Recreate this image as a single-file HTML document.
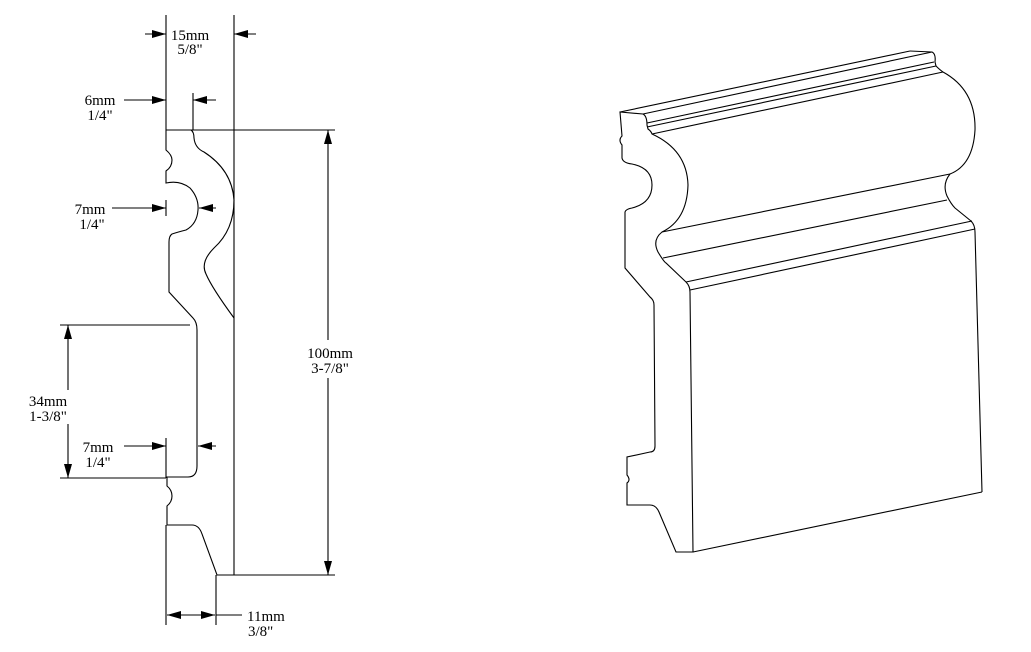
<!DOCTYPE html>
<html><head><style>
html,body{margin:0;padding:0;background:#fff;}
svg{display:block;}
text{font-family:"Liberation Serif",serif;font-size:15px;fill:#000;}
</style></head><body>
<svg width="1031" height="652" viewBox="0 0 1031 652" xmlns="http://www.w3.org/2000/svg">
<defs>
<marker id="a" viewBox="0 0 14 8" refX="14" refY="4" markerWidth="14" markerHeight="8" markerUnits="userSpaceOnUse" orient="auto"><path d="M0,0 L14,4 L0,8 z" fill="#000"/></marker>
</defs>
<g fill="none" stroke="#000" stroke-width="1.1">
<path d="M166,130 L191,130 Q194,132 194,138 Q195,148 204,152 Q232,170 234,200 Q234,230 214,248 Q200,262 206,274 Q212,288 234,318"/>
<path d="M166,130 L166,150 Q172,155 172,160 Q172,167 166,171 L166,183 Q180,180 190,188 Q199,198 198,210 Q197,224 186,230 Q178,232 172,234 Q169,236 169,242 L169,292 L193,318 Q197,322 197,330 L197,466 Q197,477 188,477 L167,477 L167,486 Q172,490 172,496 Q172,502 167,506 L167,525 L192,525 Q199,525 202,534 L217,575 L234,575"/>
<line x1="234" y1="15" x2="234" y2="575"/>
<line x1="166" y1="15" x2="166" y2="130"/>
<line x1="193" y1="93" x2="193" y2="130"/>
<line x1="166" y1="130" x2="335" y2="130"/>
<line x1="234" y1="575" x2="335" y2="575"/>
<line x1="145" y1="34" x2="166" y2="34" marker-end="url(#a)"/>
<line x1="256" y1="34" x2="234" y2="34" marker-end="url(#a)"/>
<line x1="124" y1="100" x2="166" y2="100" marker-end="url(#a)"/>
<line x1="216" y1="100" x2="193" y2="100" marker-end="url(#a)"/>
<line x1="112" y1="208" x2="166" y2="208" marker-end="url(#a)"/>
<line x1="216" y1="208" x2="199" y2="208" marker-end="url(#a)"/>
<line x1="166" y1="200" x2="166" y2="216"/>
<line x1="328" y1="340" x2="328" y2="130" marker-end="url(#a)"/>
<line x1="328" y1="378" x2="328" y2="575" marker-end="url(#a)"/>
<line x1="60" y1="325" x2="190" y2="325"/>
<line x1="60" y1="478" x2="166" y2="478"/>
<line x1="68" y1="390" x2="68" y2="325" marker-end="url(#a)"/>
<line x1="68" y1="424" x2="68" y2="478" marker-end="url(#a)"/>
<line x1="124" y1="446" x2="166" y2="446" marker-end="url(#a)"/>
<line x1="216" y1="446" x2="198" y2="446" marker-end="url(#a)"/>
<line x1="166" y1="438" x2="166" y2="478"/>
<line x1="166" y1="525" x2="166" y2="625"/>
<line x1="216" y1="575" x2="216" y2="625"/>
<line x1="191" y1="615" x2="167" y2="615" marker-end="url(#a)"/>
<line x1="191" y1="615" x2="215" y2="615" marker-end="url(#a)"/>
<line x1="216" y1="615" x2="242" y2="615"/>

<path d="M620,112 L643,114 Q647,116 647,125 L648,129 Q651,131 652,134 Q687,150 688,185 Q687,220 662,232 Q652,240 658,252 Q664,262 666,263 L686,282 Q690,286 690,292 L693,552 L676,552 L659,512 Q656,505 650,505 L627,505 L627,483 Q631,480 627,475 L627,457 L650,452 Q655,452 655,446 L654,305 Q654,300 650,297 L625,268 L625,212 Q626,209 632,208 Q652,203 652,185 Q652,168 632,164 Q623,163 622,158 L622,145 Q618,140 622,136 L620,112 Z"/>
<line x1="620" y1="112" x2="910" y2="51"/>
<path d="M910,51 L932,52 Q936,54 935,62 L936,66 Q940,70 943,72"/>
<line x1="643" y1="114" x2="932" y2="52"/>
<line x1="647" y1="123" x2="934" y2="62"/>
<line x1="647" y1="127" x2="936" y2="66"/>
<line x1="652" y1="134" x2="943" y2="72"/>
<path d="M943,72 Q976,90 975,130 Q973,165 950,174 Q942,184 947,196 Q951,204 955,208 L971,221 Q975,225 975,232 L982,492"/>
<line x1="662" y1="232" x2="950" y2="174"/>
<line x1="663" y1="258" x2="947" y2="200"/>
<line x1="686" y1="282" x2="972" y2="221"/>
<line x1="690" y1="290" x2="975" y2="229"/>
<line x1="693" y1="552" x2="982" y2="492"/>
</g>
<g>
<text x="190" y="40" text-anchor="middle">15mm</text>
<text x="190" y="54" text-anchor="middle">5/8"</text>
<text x="100" y="105" text-anchor="middle">6mm</text>
<text x="100" y="120" text-anchor="middle">1/4"</text>
<text x="90" y="214" text-anchor="middle">7mm</text>
<text x="92" y="229" text-anchor="middle">1/4"</text>
<text x="330" y="358" text-anchor="middle">100mm</text>
<text x="330" y="373" text-anchor="middle">3-7/8"</text>
<text x="48" y="406" text-anchor="middle">34mm</text>
<text x="48" y="421" text-anchor="middle">1-3/8"</text>
<text x="98" y="452" text-anchor="middle">7mm</text>
<text x="98" y="467" text-anchor="middle">1/4"</text>
<text x="247" y="621">11mm</text>
<text x="248" y="636">3/8"</text>
</g>
</svg>
</body></html>
